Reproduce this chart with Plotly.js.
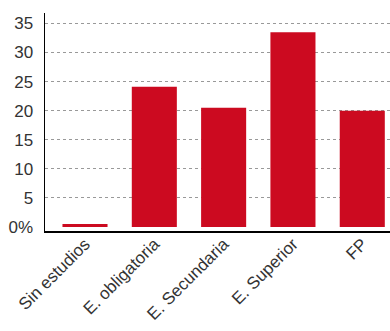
<!DOCTYPE html>
<html><head><meta charset="utf-8">
<script src="https://cdn.plot.ly/plotly-3.0.1.min.js"></script>
<style>html,body{margin:0;padding:0;background:#fff}#c{width:390px;height:331px}</style>
</head><body><div id="c"></div>
<script>
const categories = ['Sin estudios','E. obligatoria','E. Secundaria','E. Superior','FP'];
const values = [0.5, 24.1, 20.5, 33.5, 20.0];
const yTickVals = [0,5,10,15,20,25,30,35];
const yTickText = ['0%','5','10','15','20','25','30','35'];
const gridVals = [5,10,15,20,25,30,35];

const fam = 'Liberation Sans, Arial, sans-serif';
const yr = [-0.7, 36.8];
Plotly.newPlot('c', [{
  type:'scatter', x:[0], y:[0], mode:'none', hoverinfo:'none', showlegend:false
},{
  type:'bar', x:[0,1,2,3,4], y:values, width:0.65, yaxis:'y2',
  marker:{color:'#cc0a20'}, hoverinfo:'none'
}], {
  width:390, height:331, showlegend:false,
  margin:{l:45, r:0, t:13, b:100},
  paper_bgcolor:'#fff', plot_bgcolor:'rgba(0,0,0,0)',
  font:{family:fam, size:17, color:'#333'},
  xaxis:{range:[-0.577,4.4], tickmode:'array', tickvals:[0,1,2,3,4], ticktext:categories,
    tickangle:-45, showgrid:false, zeroline:false, showline:true, linecolor:'#000', linewidth:1.5,
    ticks:'', tickfont:{family:fam, size:17, color:'#333'}, ticklabelstandoff:-5},
  yaxis:{range:yr, tickmode:'array', tickvals:gridVals, showgrid:true,
    gridcolor:'#999', griddash:'dot', gridwidth:1, showticklabels:false, zeroline:false, showline:false, ticks:''},
  yaxis2:{range:yr, overlaying:'y', side:'left', tickmode:'array', tickvals:yTickVals, ticktext:yTickText, showgrid:false,
    zeroline:false, showline:true, linecolor:'#000', linewidth:1.5, ticks:'', ticklabelstandoff:7,
    tickfont:{family:fam, size:17, color:'#333'}}
}, {staticPlot:true});
</script></body></html>
